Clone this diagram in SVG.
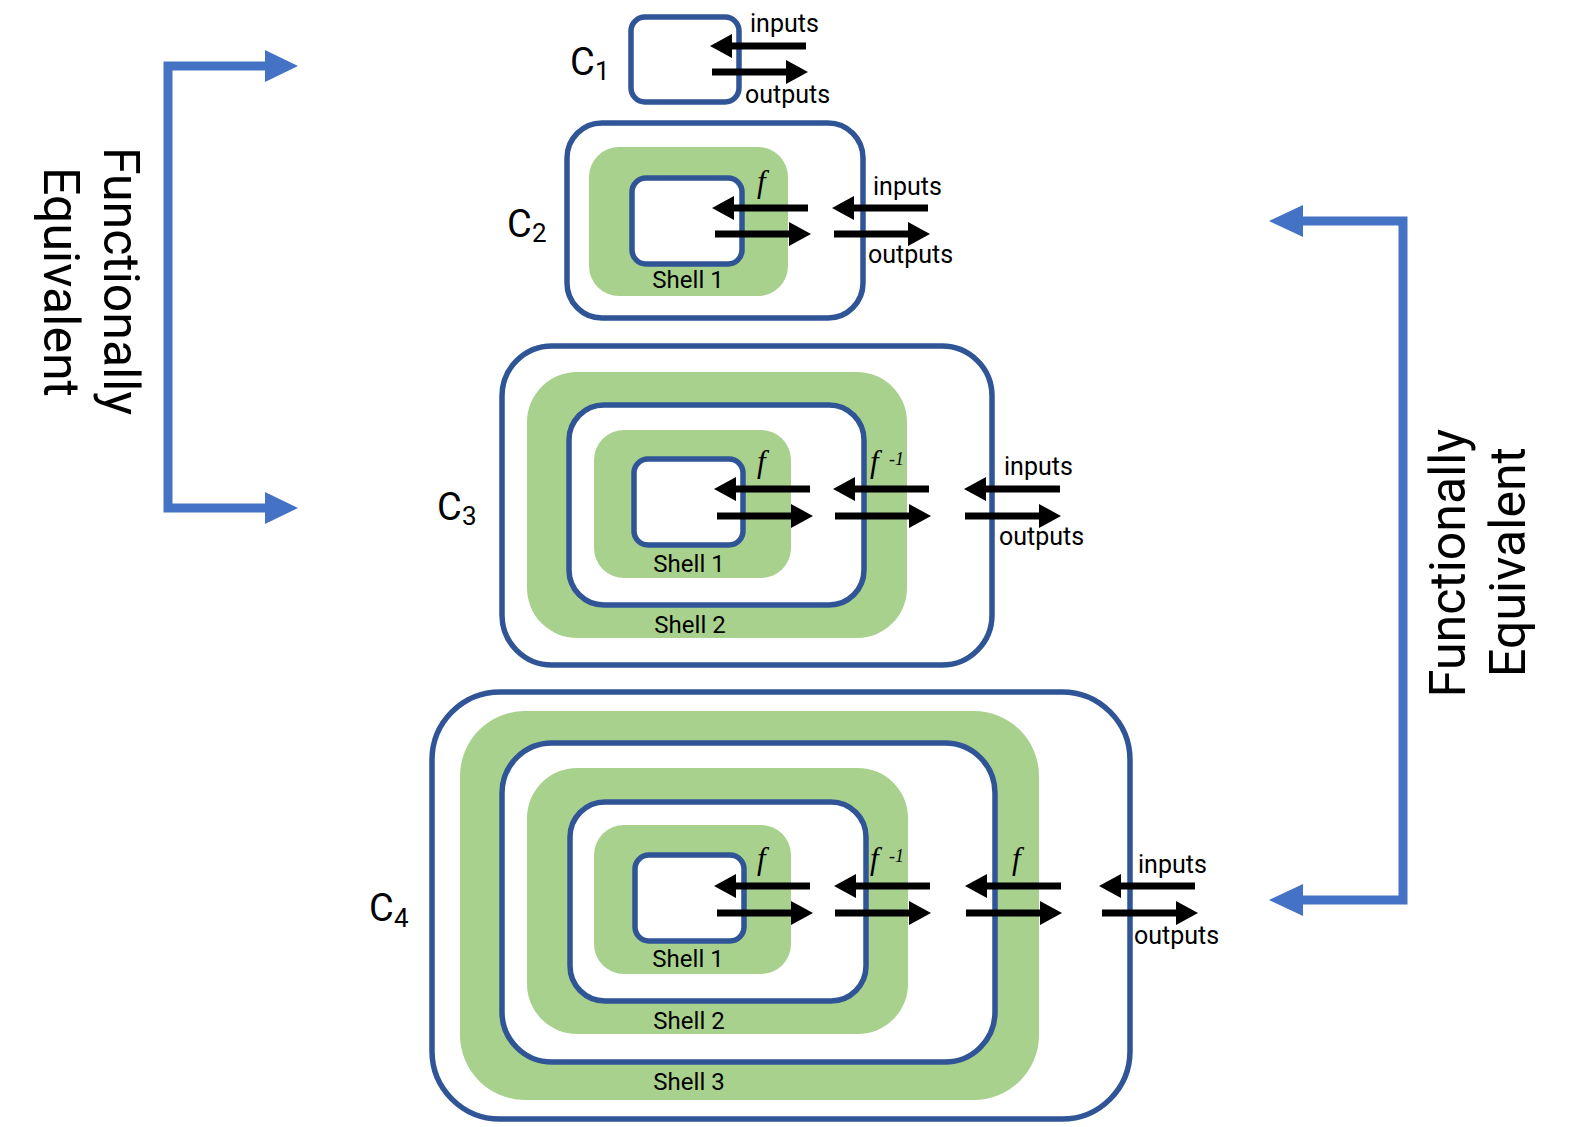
<svg xmlns="http://www.w3.org/2000/svg" xmlns:xlink="http://www.w3.org/1999/xlink" width="1572" height="1127" viewBox="0 0 1572 1127">
<style>
.box{fill:#ffffff;stroke:#2F5597;stroke-width:5.5}
.shell{fill:#A9D18E;stroke:none}
.lbl{font-family:Roboto,"Liberation Sans",sans-serif;fill:#000}
.io{font-size:25px}
.sh{font-size:24px;text-anchor:middle}
.cc{font-size:38px}
.sub{font-size:26px}
.fn{font-family:"Liberation Serif","DejaVu Serif",serif;font-style:italic;font-size:31px;fill:#000}
.sup{font-family:"Liberation Serif","DejaVu Serif",serif;font-style:italic;font-size:18px;fill:#000}
.fe{font-family:Roboto,"Liberation Sans",sans-serif;font-size:50px;fill:#000;text-anchor:middle}
.br{fill:none;stroke:#4472C4;stroke-width:9;stroke-linejoin:miter}
.bh{fill:#4472C4}
.ar{fill:#000}
</style>
<defs>
<path id="arrL" d="M0,0 L22,-12 L22,-3.5 L96,-3.5 L96,3.5 L22,3.5 L22,12 Z"/>
<path id="arrR" d="M0,-3.5 L74,-3.5 L74,-12 L96,0 L74,12 L74,3.5 L0,3.5 Z"/>
</defs>
<rect width="1572" height="1127" fill="#ffffff"/>

<g id="C1">
<rect class="box" x="631" y="17" width="108" height="85" rx="14"/>
<text class="lbl cc" x="570" y="75">C</text><text class="lbl sub" x="595" y="80">1</text>
</g>

<g id="C2">
<rect class="box" x="567" y="123" width="296" height="195" rx="35"/>
<rect class="shell" x="589" y="147" width="199" height="149" rx="30"/>
<rect class="box" x="632" y="178" width="110" height="86" rx="14"/>
<text class="lbl sh" x="688" y="288">Shell 1</text>
<text class="lbl cc" x="507" y="237">C</text><text class="lbl sub" x="532" y="242">2</text>
</g>

<g id="C3">
<rect class="box" x="502" y="346" width="490" height="319" rx="50"/>
<rect class="shell" x="527" y="372" width="380" height="266" rx="50"/>
<rect class="box" x="569" y="405" width="295" height="200" rx="35"/>
<rect class="shell" x="594" y="430" width="197" height="148" rx="30"/>
<rect class="box" x="634" y="459" width="109" height="86" rx="14"/>
<text class="lbl sh" x="689" y="572">Shell 1</text>
<text class="lbl sh" x="690" y="633">Shell 2</text>
<text class="lbl cc" x="437" y="520">C</text><text class="lbl sub" x="462" y="525">3</text>
</g>

<g id="C4">
<rect class="box" x="432" y="692" width="698" height="427" rx="68"/>
<rect class="shell" x="460" y="711" width="579" height="389" rx="65"/>
<rect class="box" x="502" y="743" width="493" height="319" rx="50"/>
<rect class="shell" x="527" y="768" width="381" height="266" rx="50"/>
<rect class="box" x="570" y="802" width="296" height="199" rx="35"/>
<rect class="shell" x="594" y="825" width="197" height="149" rx="30"/>
<rect class="box" x="635" y="855" width="109" height="86" rx="14"/>
<text class="lbl sh" x="688" y="967">Shell 1</text>
<text class="lbl sh" x="689" y="1029">Shell 2</text>
<text class="lbl sh" x="689" y="1090">Shell 3</text>
<text class="lbl cc" x="369" y="921">C</text><text class="lbl sub" x="394" y="927">4</text>
</g>

<g id="connectors">
<!-- C1 -->
<use xlink:href="#arrL" href="#arrL" class="ar" x="710" y="46"/>
<use xlink:href="#arrR" href="#arrR" class="ar" x="712" y="72"/>
<!-- C2 -->
<use xlink:href="#arrL" href="#arrL" class="ar" x="712" y="208"/>
<use xlink:href="#arrR" href="#arrR" class="ar" x="715" y="234"/>
<use xlink:href="#arrL" href="#arrL" class="ar" x="832" y="208"/>
<use xlink:href="#arrR" href="#arrR" class="ar" x="834" y="234"/>
<!-- C3 -->
<use xlink:href="#arrL" href="#arrL" class="ar" x="714" y="489"/>
<use xlink:href="#arrR" href="#arrR" class="ar" x="717" y="516"/>
<use xlink:href="#arrL" href="#arrL" class="ar" x="833" y="489"/>
<use xlink:href="#arrR" href="#arrR" class="ar" x="835" y="516"/>
<use xlink:href="#arrL" href="#arrL" class="ar" x="964" y="489"/>
<use xlink:href="#arrR" href="#arrR" class="ar" x="965" y="516"/>
<!-- C4 -->
<use xlink:href="#arrL" href="#arrL" class="ar" x="714" y="886"/>
<use xlink:href="#arrR" href="#arrR" class="ar" x="717" y="913"/>
<use xlink:href="#arrL" href="#arrL" class="ar" x="834" y="886"/>
<use xlink:href="#arrR" href="#arrR" class="ar" x="835" y="913"/>
<use xlink:href="#arrL" href="#arrL" class="ar" x="965" y="886"/>
<use xlink:href="#arrR" href="#arrR" class="ar" x="966" y="913"/>
<use xlink:href="#arrL" href="#arrL" class="ar" x="1099" y="886"/>
<use xlink:href="#arrR" href="#arrR" class="ar" x="1102" y="913"/>

<!-- brackets -->
<path class="br" d="M267,66 H168 V508 H267"/>
<polygon class="bh" points="265,50 298,66 265,82"/>
<polygon class="bh" points="265,492 298,508 265,524"/>
<path class="br" d="M1302,221 H1403 V900 H1302"/>
<polygon class="bh" points="1303,205 1269,221 1303,237"/>
<polygon class="bh" points="1303,884 1269,900 1303,916"/>
</g>

<g id="labels">
<text class="lbl io" x="750" y="32">inputs</text>
<text class="lbl io" x="745" y="103">outputs</text>
<text class="lbl io" x="873" y="195">inputs</text>
<text class="lbl io" x="868" y="263">outputs</text>
<text class="lbl io" x="1004" y="475">inputs</text>
<text class="lbl io" x="999" y="545">outputs</text>
<text class="lbl io" x="1138" y="873">inputs</text>
<text class="lbl io" x="1134" y="944">outputs</text>

<text class="fn" x="757" y="192">f</text>
<text class="fn" x="757" y="472">f</text>
<text class="fn" x="870" y="472">f</text><text class="sup" x="889" y="465">-1</text>
<text class="fn" x="757" y="869">f</text>
<text class="fn" x="870" y="869">f</text><text class="sup" x="889" y="862">-1</text>
<text class="fn" x="1012" y="869">f</text>

<text class="fe" transform="translate(104,281) rotate(90)">Functionally</text>
<text class="fe" transform="translate(44,282) rotate(90)">Equivalent</text>
<text class="fe" transform="translate(1465,563) rotate(-90)">Functionally</text>
<text class="fe" transform="translate(1525,562) rotate(-90)">Equivalent</text>
</g>
</svg>
